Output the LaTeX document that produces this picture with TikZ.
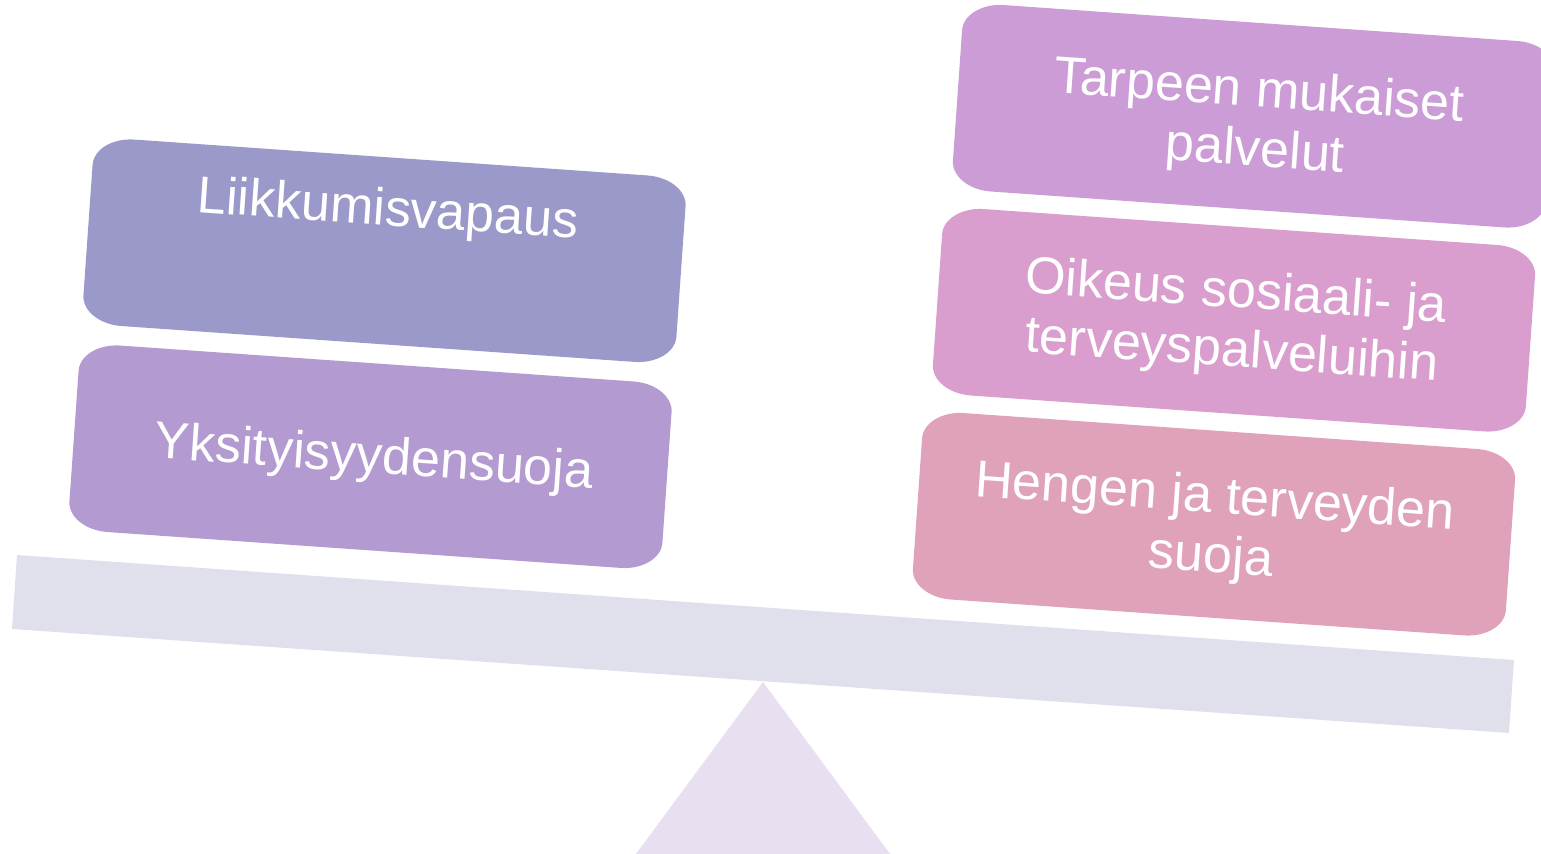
\documentclass[tikz,border=0pt]{standalone}
\usepackage{fontspec}
\setmainfont{Liberation Sans}
\definecolor{boxA}{HTML}{9B98CA}
\definecolor{boxB}{HTML}{B39AD0}
\definecolor{boxC}{HTML}{CC9CD6}
\definecolor{boxD}{HTML}{DA9ECE}
\definecolor{boxE}{HTML}{E0A2BA}
\definecolor{beamc}{HTML}{E0E0ED}
\definecolor{fulcrum}{HTML}{E8DFF0}
\tikzset{
  pics/balbox/.style={code={
    \fill[#1] (-257.2,93.45) -- (257.2,93.45)
      arc[start angle=90,end angle=0,x radius=0.4cm,y radius=0.28cm]
      -- (297.2,-65.45)
      arc[start angle=0,end angle=-90,x radius=0.4cm,y radius=0.28cm]
      -- (-257.2,-93.45)
      arc[start angle=-90,end angle=-180,x radius=0.4cm,y radius=0.28cm]
      -- (-297.2,65.45)
      arc[start angle=180,end angle=90,x radius=0.4cm,y radius=0.28cm]
      -- cycle;
  }},
  lbl/.style={text=white, font=\fontsize{14.8pt}{16.8pt}\selectfont, rotate=-4, anchor=base, inner sep=0pt}
}
\begin{document}
\begin{tikzpicture}[x=0.01cm,y=0.01cm]
\useasboundingbox (0,0) rectangle (1541,854);
\clip (0,0) rectangle (1541,854);
% fulcrum
\coordinate (apex) at (763,172);
\coordinate (fl) at (621.2,-20);
\coordinate (fr) at (904.8,-20);
\fill[fulcrum] (apex) -- (fr) -- (fl) -- cycle;
% beam
\coordinate (btl) at (17,299);
\coordinate (btr) at (1514,194);
\coordinate (bbr) at (1509,121);
\coordinate (bbl) at (12,225);
\fill[beamc] (btl) -- (btr) -- (bbr) -- (bbl) -- cycle;
% boxes
\pic[rotate=-4] (b1) at (384.5,603.25) {balbox=boxA};
\pic[rotate=-4] (b2) at (370.5,397.25) {balbox=boxB};
\pic[rotate=-4] (b3) at (1254,737.75) {balbox=boxC};
\pic[rotate=-4] (b4) at (1234,533.75) {balbox=boxD};
\pic[rotate=-4] (b5) at (1214,329.75) {balbox=boxE};
% labels
\node[lbl] (t1) at (387,628.5) {Liikkumisvapaus};
\node[lbl] (t2) at (373,381) {Yksityisyydensuoja};
\node[lbl] (t3) at (1258,747) {\begin{tabular}[t]{@{}c@{}}Tarpeen mukaiset\\palvelut\end{tabular}};
\node[lbl] (t4) at (1235,546.5) {\begin{tabular}[t]{@{}c@{}}Oikeus sosiaali- ja\\terveyspalveluihin\end{tabular}};
\node[lbl] (t5) at (1214,341) {\begin{tabular}[t]{@{}c@{}}Hengen ja terveyden\\suoja\end{tabular}};
\end{tikzpicture}
\end{document}
